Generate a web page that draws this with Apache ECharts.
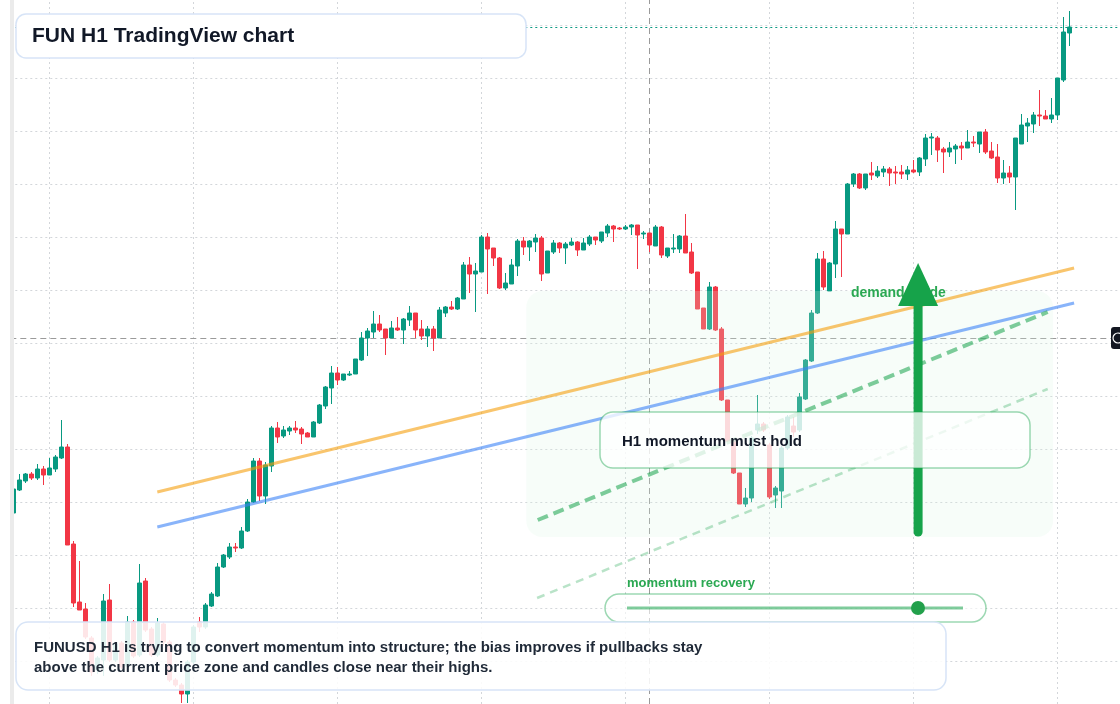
<!DOCTYPE html>
<html>
<head>
<meta charset="utf-8">
<title>FUN H1 TradingView chart</title>
<script src="https://cdn.jsdelivr.net/npm/echarts@6/dist/echarts.min.js"></script>
<style>
  html, body { margin: 0; padding: 0; background: #fff; }
  #chart { width: 1120px; height: 704px; }
</style>
</head>
<body>
<div id="chart"></div>
<script>
// H1 bars (price in chart units)
var opens = [201,224,233,240,236,245,239,245,256,267, 170,112,105,76,44,54,114,54,71,48,
  92,59,133,85,59,90,72,34,29,20, 52,92,87,108,118,147,157,167,166,183,
  212,253,218,248,286,278,283,286,285,281, 277,291,308,326,341,334,339,340,354,376,
  382,390,385,376,386,384,394,401,385,378, 385,376,401,407,405,415,449,440,442,477,
  466,456,426,430,448,473,467,472,476,441, 462,471,466,469,472,464,470,477,473,481,
  488,486,485,487,489,480,481,468,487,458, 465,465,478,462,442,406,385,427,385,314,
  274,241,210,216,284,290,269,219,223,266, 288,284,315,353,401,455,423,450,485,480,
  530,540,526,541,538,542,545,542,542,540, 544,542,555,576,576,565,562,565,568,566,
  572,570,582,563,557,536,541,537,570,588, 590,599,598,595,599,634,681];
var highs = [227,240,241,242,250,248,256,259,294,270, 173,153,111,78,58,120,130,72,73,98,
  94,150,136,87,96,92,74,36,31,54, 89,97,111,122,151,160,171,171,187,215,
  256,256,252,288,292,288,288,293,287,282, 293,310,328,348,347,340,343,355,382,386,
  403,399,385,393,397,396,408,401,394,388, 388,407,408,413,417,452,457,451,479,481,
  466,457,441,455,475,477,474,480,478,463, 474,472,472,476,473,476,479,477,482,490,
  489,487,489,490,489,483,481,489,488,466, 480,479,500,471,442,406,432,428,387,314,
  274,241,226,278,319,292,271,228,268,299, 297,321,355,404,461,463,452,493,485,531,
  541,541,540,552,548,548,547,548,549,548, 554,557,580,581,578,567,572,570,572,584,
  578,582,585,572,570,554,548,576,600,596, 602,624,604,616,636,697,703];
var lows = [199,223,231,234,234,229,239,242,255,169, 107,104,75,38,40,38,52,52,45,46,
  56,57,82,57,57,68,32,27,11,11, 50,82,85,107,117,146,155,162,165,182,
  211,213,210,242,271,276,279,281,270,277, 277,290,305,310,329,333,338,340,353,358,
  376,382,359,376,383,370,388,376,374,367, 363,376,397,404,404,415,421,402,442,420,
  448,425,424,430,438,459,453,462,433,441, 460,461,450,468,458,464,468,469,471,477,
  472,484,484,479,445,475,462,468,456,456, 461,461,461,440,405,385,384,383,313,272,
  240,210,207,212,280,282,215,206,206,264, 277,282,314,352,400,424,423,436,437,480,
  527,525,524,534,536,537,528,530,535,534, 541,538,548,559,552,541,557,550,554,566,
  567,561,560,555,531,530,531,504,570,572, 581,588,595,591,594,632,668];
var closes = [225,234,240,236,245,239,246,257,267,169, 111,104,77,42,56,113,54,70,47,92,
  58,131,84,59,91,72,34,29,20,52, 87,87,109,120,147,159,167,166,183,212,
  253,218,249,286,277,284,286,284,280,277, 292,309,327,341,334,340,340,355,376,383,
  390,384,376,386,384,395,401,384,378,385, 376,404,407,405,416,449,440,443,477,465,
  456,426,431,449,473,467,473,476,440,463, 471,466,470,472,464,471,477,474,482,488,
  485,485,487,489,479,481,469,487,459,466, 466,478,461,441,405,385,427,384,314,273,
  241,210,216,276,290,284,217,226,266,297, 282,317,354,401,455,427,451,485,480,530,
  540,526,540,539,543,545,541,541,540,544, 542,556,576,577,564,562,566,568,566,572,
  571,582,562,556,536,541,537,576,589,591, 599,598,595,599,636,682,687];

// drawn levels: [bar index, price]
var orangeLine = [[24, 222], [176.8, 446]];
var blueLine = [[24, 187], [176.8, 411]];
var pullbackPath = [[87.4, 194], [172.4, 402]];
var recoveryPath = [[87.3, 116], [172.4, 325]];
var demandZone = [[85.5, 423], [173.3, 177]];
var arrowPath = [[150.8, 182], [150.8, 451]];
var crossBar = 106;
var crossPrice = 376;

var padBars = 8;
var categories = [];
var start = Date.UTC(2025, 4, 11, 18);
for (var i = 0; i < opens.length + padBars; i++) {
  var d = new Date(start + i * 3600000);
  var p = function (n) { return (n < 10 ? '0' : '') + n; };
  categories.push(p(d.getUTCMonth() + 1) + '-' + p(d.getUTCDate()) + ' ' + p(d.getUTCHours()) + ':00');
}

var candles = opens.map(function (o, i) { return [o, closes[i], lows[i], highs[i]]; });

var dayLines = categories.filter(function (c) { return c.slice(-5) === '00:00'; }).map(function (c) {
  return { xAxis: c, lineStyle: { color: '#d3d6da', type: [2, 3], width: 1 } };
});

var chart = echarts.init(document.getElementById('chart'));
var font = '"Liberation Sans", Arial, sans-serif';

chart.setOption({
  animation: false,
  backgroundColor: '#ffffff',
  grid: { left: 10.3, top: -28, width: 1110, height: 742, outerBoundsMode: 'none', containLabel: false },
  xAxis: [
    { type: 'category', data: categories, boundaryGap: true,
      axisLine: { show: false }, axisTick: { show: false }, axisLabel: { show: false }, splitLine: { show: false } },
    { type: 'value', min: -0.5, max: 184.5, show: false }
  ],
  yAxis: {
    type: 'value', min: 0, max: 742, interval: 53,
    axisLine: { show: false }, axisTick: { show: false }, axisLabel: { show: false },
    splitLine: { show: true, lineStyle: { color: '#d3d6da', type: [2, 3], width: 1 } }
  },
  series: [
    {
      type: 'candlestick',
      name: 'FUNUSD',
      data: candles,
      barWidth: 4,
      z: 2,
      itemStyle: { color: '#089981', color0: '#f23645', borderColor: '#089981', borderColor0: '#f23645', borderWidth: 1 },
      markLine: {
        silent: true, z: 1, symbol: ['none', 'none'], label: { show: false },
        data: dayLines.concat([
          { yAxis: closes[closes.length - 1], lineStyle: { color: '#089981', type: [2, 3], width: 1 } },
          { xAxis: categories[crossBar], lineStyle: { color: '#9a9a9a', type: [6, 4], width: 1 } },
          { yAxis: crossPrice, lineStyle: { color: '#9a9a9a', type: [6, 4], width: 1 } }
        ])
      }
    },
    { type: 'line', xAxisIndex: 1, data: orangeLine, symbol: 'none', z: 4,
      lineStyle: { color: 'rgba(245,158,11,0.6)', width: 3 } },
    { type: 'line', xAxisIndex: 1, data: blueLine, symbol: 'none', z: 4,
      lineStyle: { color: 'rgba(59,130,246,0.6)', width: 3 } },
    { type: 'line', xAxisIndex: 1, data: pullbackPath, symbol: 'none', z: 4,
      lineStyle: { color: 'rgba(22,163,74,0.55)', width: 4, type: [11, 6] } },
    { type: 'line', xAxisIndex: 1, data: recoveryPath, symbol: 'none', z: 4,
      lineStyle: { color: 'rgba(22,163,74,0.3)', width: 2.5, type: [8, 6] } }
  ]
});

function px(pt) { return chart.convertToPixel({ seriesIndex: 1 }, pt); }

var z0 = px(demandZone[0]), z1 = px(demandZone[1]);
var a0 = px(arrowPath[0]), a1 = px(arrowPath[1]);
var green = '#16a34a';
var boxLine = 'rgba(22,163,74,0.42)';
var blueBorder = '#d7e4f7';

chart.setOption({
  graphic: [
    { type: 'rect', z: 3, shape: { x: z0[0], y: z0[1], width: z1[0] - z0[0], height: z1[1] - z0[1], r: 16 },
      style: { fill: 'rgba(220,245,228,0.22)' } },
    { type: 'text', z: 5, x: 851, y: 293, style: { text: 'demand guide', font: 'bold 14px ' + font, fill: '#2aa852', verticalAlign: 'middle' } },
    { type: 'line', z: 6, shape: { x1: a0[0], y1: a0[1], x2: a0[0], y2: a1[1] + 40 },
      style: { stroke: green, lineWidth: 9, lineCap: 'round' } },
    { type: 'polygon', z: 6, shape: { points: [[a1[0], a1[1]], [a1[0] - 20, a1[1] + 43], [a1[0] + 20, a1[1] + 43]] },
      style: { fill: green } },

    // callout boxes
    { type: 'rect', z: 8, shape: { x: 600, y: 412, width: 430, height: 56, r: 13 },
      style: { fill: 'rgba(255,255,255,0.77)', stroke: boxLine, lineWidth: 1.5 } },
    { type: 'text', z: 9, x: 622, y: 442, style: { text: 'H1 momentum must hold', font: 'bold 15px ' + font, fill: '#111827', verticalAlign: 'middle' } },

    { type: 'text', z: 9, x: 627, y: 583, style: { text: 'momentum recovery', font: 'bold 13px ' + font, fill: '#2aa852', verticalAlign: 'middle' } },
    { type: 'rect', z: 8, shape: { x: 605, y: 594, width: 381, height: 28, r: 14 },
      style: { fill: 'rgba(255,255,255,0.6)', stroke: boxLine, lineWidth: 1.5 } },
    { type: 'line', z: 9, shape: { x1: 627, y1: 608, x2: 963, y2: 608 },
      style: { stroke: 'rgba(22,163,74,0.55)', lineWidth: 3 } },
    { type: 'circle', z: 9, shape: { cx: 918, cy: 608, r: 7 }, style: { fill: '#22a04b' } },

    { type: 'rect', z: 8, shape: { x: 16, y: 622, width: 930, height: 68, r: 12 },
      style: { fill: 'rgba(255,255,255,0.87)', stroke: blueBorder, lineWidth: 1.5 } },
    { type: 'text', z: 9, x: 34, y: 648, style: { text: 'FUNUSD H1 is trying to convert momentum into structure; the bias improves if pullbacks stay', font: 'bold 15px ' + font, fill: '#1f2937', verticalAlign: 'middle' } },
    { type: 'text', z: 9, x: 34, y: 668, style: { text: 'above the current price zone and candles close near their highs.', font: 'bold 15px ' + font, fill: '#1f2937', verticalAlign: 'middle' } },

    // title
    { type: 'rect', z: 10, shape: { x: 16, y: 14, width: 510, height: 44, r: 10 },
      style: { fill: '#ffffff', stroke: blueBorder, lineWidth: 1.5 } },
    { type: 'text', z: 11, x: 32, y: 36, style: { text: 'FUN H1 TradingView chart', font: 'bold 21px ' + font, fill: '#111827', verticalAlign: 'middle' } },

    // left edge strip and cut-off price tag
    { type: 'rect', z: 10, shape: { x: 10, y: 0, width: 4, height: 704 }, style: { fill: '#ebebeb' } },
    { type: 'rect', z: 10, shape: { x: 1111, y: 327, width: 14, height: 22, r: 3 }, style: { fill: '#131722' } },
    { type: 'circle', z: 11, shape: { cx: 1118, cy: 338, r: 5 }, style: { fill: 'none', stroke: '#ffffff', lineWidth: 1.2 } }
  ]
});
</script>
</body>
</html>
